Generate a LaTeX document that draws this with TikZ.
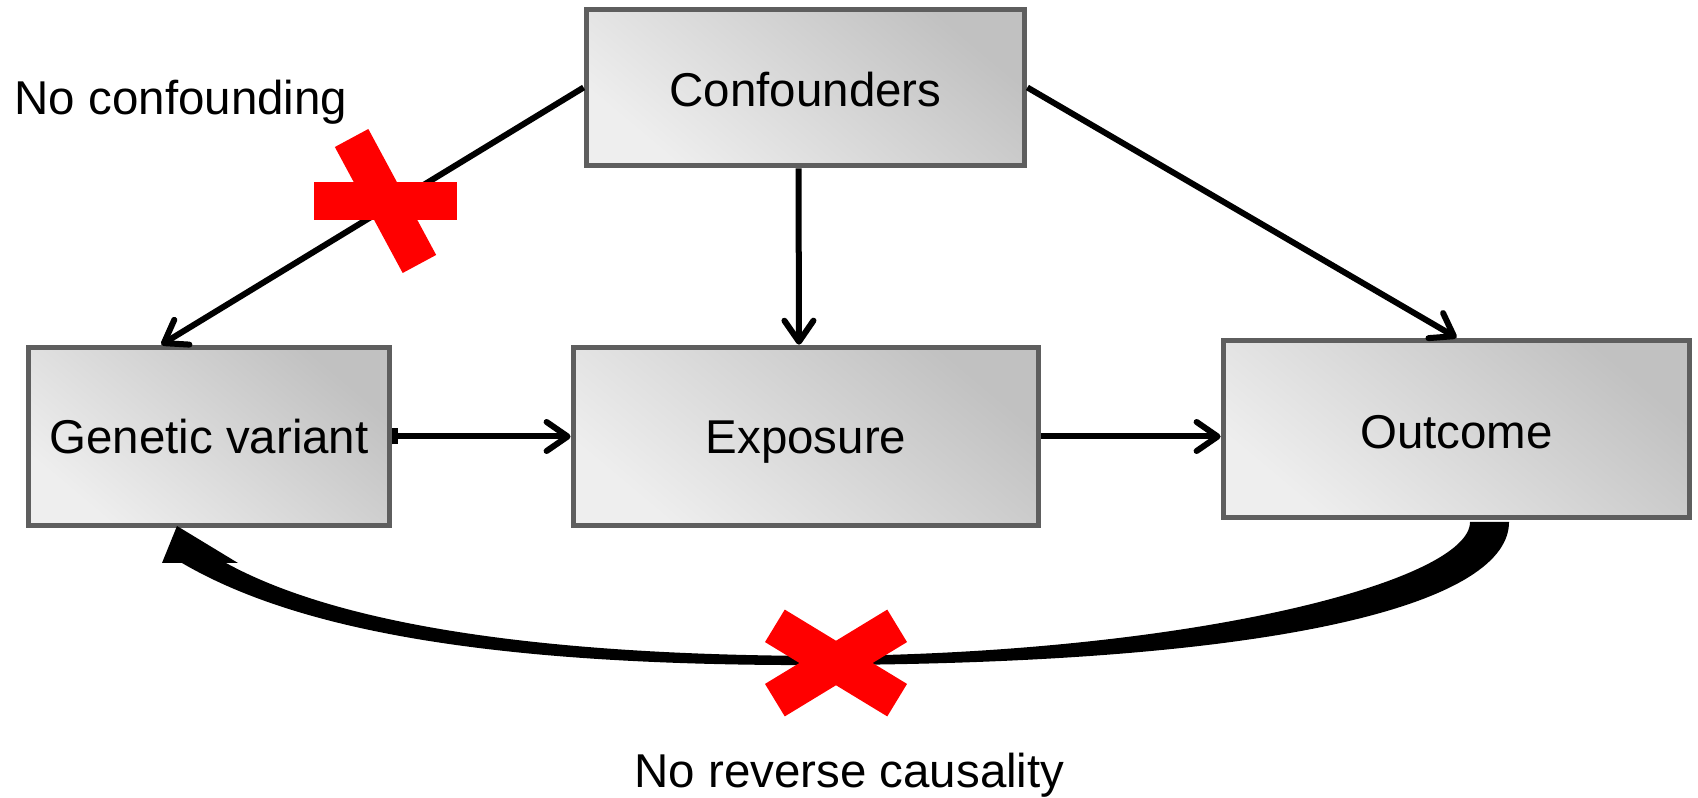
\documentclass[tikz,border=0pt]{standalone}
\usepackage{fontspec}
\setmainfont{Liberation Sans}
\usetikzlibrary{arrows.meta,calc}
\definecolor{boxdark}{RGB}{193,193,193}
\definecolor{boxlight}{RGB}{238,238,238}
\definecolor{boxedge}{RGB}{94,94,94}
\definecolor{xred}{RGB}{255,0,0}
\begin{document}
\begin{tikzpicture}[x=0.01cm, y=-0.01cm,
  font=\fontsize{13.5pt}{16pt}\selectfont,
  block/.style={draw=boxedge, line width=0.055cm, top color=boxdark,
    bottom color=boxlight, shading angle=-40, inner sep=0pt,
    outer sep=0.0275cm, text height=0.38cm, text depth=0pt},
  conn/.style={line width=0.06cm, -{Straight Barb[length=2.1mm,width=2.9mm,round]}},
  xbar/.style={fill=xred, minimum width=1.43cm, minimum height=0.38cm,
    inner sep=0pt, outer sep=0pt},
  label/.style={inner sep=0pt}]
\useasboundingbox (0,0) rectangle (1698,798);
\fill[white] (0,0) rectangle (1698,798);

% boxes
\node[block, minimum width=4.38cm, minimum height=1.56cm] (conf) at (805.5,87.5) {Confounders};
\node[block, text height=0.33cm, minimum width=3.61cm, minimum height=1.78cm] (gv) at (209,436.5) {Genetic variant};
\node[block, text height=0.33cm, minimum width=4.65cm, minimum height=1.78cm] (exp) at (806,436.5) {Exposure};
\node[block, minimum width=4.66cm, minimum height=1.77cm] (out) at (1456.5,429) {Outcome};

% causal arrows
\draw[conn] (conf.west) -- ($(gv.north west)!0.37!(gv.north east)$);
\draw[conn] ([xshift=-0.07cm]conf.south) -- ([xshift=-0.07cm]exp.north);
\draw[conn] (conf.east) -- (out.north);
\draw[line width=0.06cm, {Bar[width=1.6mm]}-{Straight Barb[length=2.1mm,width=2.9mm,round]}] (gv.east) -- (exp.west);
\draw[conn] (exp.east) -- (exp.east -| out.west);

% tapered curved arrow from outcome back to the genetic variant
\fill[black]
  (1509,522) .. controls (1509,600) and (1300,662) .. (834,665)
  .. controls (500,667) and (300,632) .. (182,563)
  -- (162,563) -- (177,526) -- (238,563) -- (226,563)
  .. controls (330,620) and (520,656) .. (834,656)
  .. controls (1200,652) and (1470,580) .. (1470,522) -- cycle;

% red crosses
\node[xbar] (xa1) at (385.5,201) {};
\node[xbar, rotate=-61.7] (xa2) at (385.5,201) {};
\node[xbar, rotate=31.3] (xb1) at (836,663) {};
\node[xbar, rotate=-31.3] (xb2) at (836,663) {};

% captions
\node[label, anchor=base west] (lconf) at (14,115) {No confounding};
\node[label, anchor=base] (lrev) at (849.5,787) {No reverse causality};
\end{tikzpicture}
\end{document}
